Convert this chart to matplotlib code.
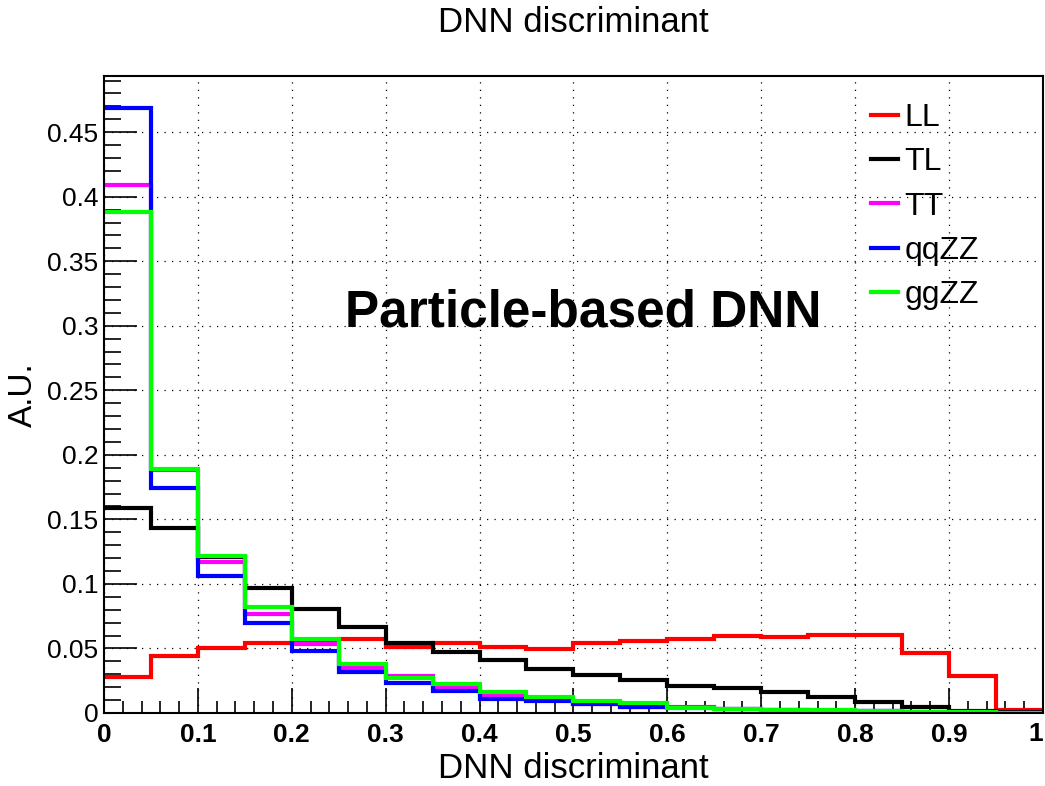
import numpy as np
import matplotlib
matplotlib.use("Agg")
import matplotlib.pyplot as plt
from matplotlib.ticker import MultipleLocator, FuncFormatter
from matplotlib.transforms import blended_transform_factory

plt.rcParams["font.family"] = ["Liberation Sans", "DejaVu Sans"]

# 20 bins of width 0.05 on [0, 1]
bin_edges = np.linspace(0.0, 1.0, 21)

labels = ["LL", "TL", "TT", "qqZZ", "ggZZ"]
colors = ["#ff0000", "#000000", "#ff00ff", "#0000ff", "#00ff00"]

ll = [0.028, 0.0444, 0.0503, 0.054, 0.055, 0.0573, 0.0514, 0.0545, 0.0514, 0.0497,
      0.054, 0.0558, 0.0575, 0.0596, 0.059, 0.0604, 0.0604, 0.0467, 0.0287, 0.0023]
tl = [0.159, 0.1435, 0.121, 0.0966, 0.0805, 0.0668, 0.0545, 0.0472, 0.0408, 0.0343,
      0.0294, 0.0256, 0.0212, 0.0191, 0.016, 0.0124, 0.0088, 0.0049, 0.0018, 0.0005]
tt = [0.409, 0.188, 0.1167, 0.0767, 0.0534, 0.035, 0.0287, 0.019, 0.0139, 0.0101,
      0.007, 0.0046, 0.005, 0.0032, 0.0025, 0.002, 0.0015, 0.001, 0.0007, 0.0003]
qqzz = [0.469, 0.174, 0.106, 0.070, 0.048, 0.032, 0.0235, 0.0168, 0.0106, 0.009,
        0.007, 0.0046, 0.004, 0.003, 0.0024, 0.0019, 0.0014, 0.001, 0.0007, 0.0003]
ggzz = [0.388, 0.1892, 0.1218, 0.0823, 0.057, 0.0382, 0.0269, 0.0222, 0.0163, 0.0126,
        0.0093, 0.0077, 0.0041, 0.003, 0.0025, 0.002, 0.0015, 0.001, 0.0008, 0.0003]

series = [ll, tl, tt, qqzz, ggzz]

fig = plt.figure(figsize=(10.45, 7.86), dpi=100)
ax = fig.add_axes([0.0995, 0.0929, 0.8985, 0.8104])

for vals, lab, col in zip(series, labels, colors):
    ax.stairs(vals, bin_edges, baseline=None, color=col, lw=3.0, label=lab)

ax.set_xlim(0, 1)
ax.set_ylim(0, 0.4935)

ax.xaxis.set_major_locator(MultipleLocator(0.1))
ax.xaxis.set_minor_locator(MultipleLocator(0.02))
ax.yaxis.set_major_locator(MultipleLocator(0.05))
ax.yaxis.set_minor_locator(MultipleLocator(0.01))


def tick_fmt(v, pos):
    if abs(v) < 1e-9:
        return "0"
    return f"{v:g}"


def xtick_fmt(v, pos):
    # the label at the right edge is drawn separately, flush right
    if abs(v - 1) < 1e-9:
        return ""
    return tick_fmt(v, pos)


ax.xaxis.set_major_formatter(FuncFormatter(xtick_fmt))
ax.yaxis.set_major_formatter(FuncFormatter(tick_fmt))

ax.tick_params(axis="both", which="both", direction="in", top=False, right=False, color="black")
ax.tick_params(axis="y", which="major", length=24, width=1.2, labelsize=19, pad=4)
ax.tick_params(axis="y", which="minor", length=12, width=1.2)
ax.tick_params(axis="x", which="major", length=18, width=1.2, labelsize=19, pad=7)
ax.tick_params(axis="x", which="minor", length=9, width=1.2)
for t in ax.get_xticklabels():
    t.set_fontweight("bold")

trans = blended_transform_factory(ax.transData, ax.transAxes)
ax.text(1.0, -0.0145, "1", transform=trans, ha="right", va="top",
        fontsize=19, fontweight="bold")

ax.grid(True, which="major", color="black", linestyle=(0, (1, 5)), lw=0.9)
ax.set_axisbelow(True)

for s in ax.spines.values():
    s.set_linewidth(1.5)

ax.set_xlabel("DNN discriminant", fontsize=25)
ax.xaxis.set_label_coords(0.5, -0.062)
ax.set_ylabel("A.U.", fontsize=24)
ax.yaxis.set_label_coords(-0.069, 0.5)

fig.text(0.5485, 0.972, "DNN discriminant", ha="center", va="center", fontsize=25)

ax.text(0.51, 0.31, "Particle-based DNN", ha="center", va="center",
        fontsize=37, fontweight="bold", zorder=5)

ax.legend(loc="upper left", bbox_to_anchor=(0.817, 0.958), frameon=False,
          fontsize=23, handlelength=0.85, handletextpad=0.2, labelspacing=0.45,
          borderpad=0, borderaxespad=0)

fig.savefig("out.png", dpi=100)
